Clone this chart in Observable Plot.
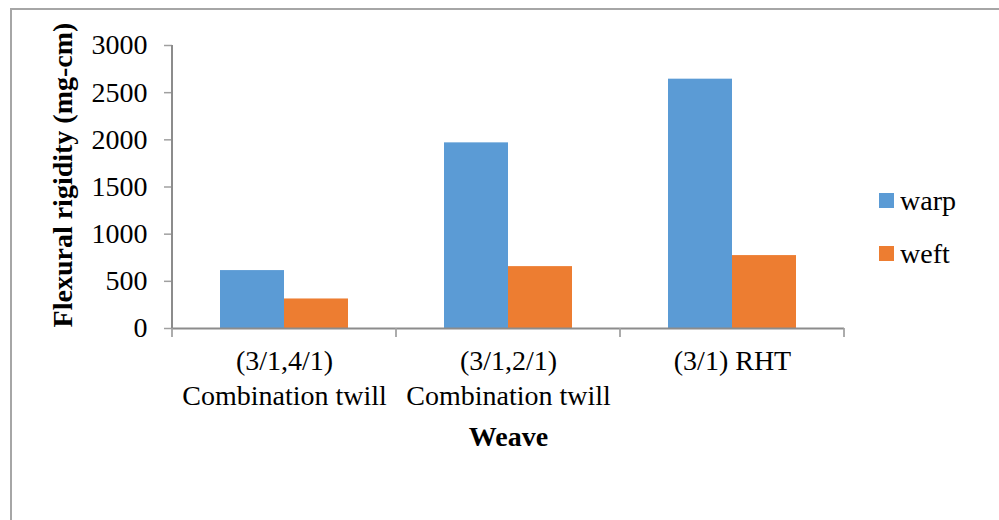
<!DOCTYPE html>
<html>
<head>
<meta charset="utf-8">
<script src="https://cdn.jsdelivr.net/npm/d3@7"></script>
<script src="https://cdn.jsdelivr.net/npm/@observablehq/plot@0.6"></script>
<style>
  html, body { margin: 0; padding: 0; background: #fff; }
  #wrap { position: relative; width: 999px; height: 520px; overflow: hidden; }
  #wrap > svg { position: absolute; left: 0; top: 0; }
  #border { position: absolute; left: 10px; top: 8px; width: 1000px; height: 520px;
            border-top: 2px solid #a6a6a6; border-left: 2px solid #a6a6a6; pointer-events: none; }
  #legend { position: absolute; left: 879px; top: 174px; }
  .lg-swatch { display: flex !important; align-items: center; height: 53px; margin: 0 !important; padding: 0 !important; }
  .lg-swatch > svg { margin-right: 6px !important; }
</style>
</head>
<body>
<div id="wrap"><div id="border"></div></div>
<script>
// Flexural rigidity by weave, warp and weft directions
const categories = ["(3/1,4/1)\nCombination twill", "(3/1,2/1)\nCombination twill", "(3/1) RHT"];
const series = ["warp", "weft"];
const warp = [614, 1968, 2643];
const weft = [313, 656, 773];
const yTicks = [0, 500, 1000, 1500, 2000, 2500, 3000];
const colors = ["#5B9BD5", "#ED7D31"];
const yTitle = "Flexural rigidity (mg-cm)";
const xTitle = "Weave";

const rows = categories.flatMap((c, i) => [
  {category: c, series: series[0], value: warp[i]},
  {category: c, series: series[1], value: weft[i]}
]);

const serif = '"Liberation Serif", "Times New Roman", serif';
const axisGrey = "#8c8c8c";

const chart = Plot.plot({
  width: 999,
  height: 520,
  marginLeft: 172,
  marginRight: 155,
  marginTop: 45,
  marginBottom: 192,
  style: {fontFamily: serif, fontSize: "28px", color: "#000", background: "transparent", overflow: "visible"},
  fx: {domain: categories, padding: 0},
  x: {domain: series, paddingInner: 0, paddingOuter: 0.75, axis: null},
  y: {domain: [yTicks[0], yTicks[yTicks.length - 1]]},
  color: {domain: series, range: colors},
  marks: [
    Plot.barY(rows, {fx: "category", x: "series", y: "value", fill: "series"}),
    Plot.ruleY([0], {stroke: axisGrey, strokeWidth: 2}),
    Plot.axisY({ticks: yTicks, tickFormat: d => String(d), tickSize: 8, tickPadding: 17,
                stroke: "#a0a0a0", strokeWidth: 1.5, fill: "#000", fontSize: 28, label: null}),
    Plot.axisFx({anchor: "bottom", tickSize: 0, tickPadding: 17, fontSize: 28, lineHeight: 1.25,
                 fill: "#000", label: null}),
    Plot.text([{fx: categories[0], t: yTitle}], {fx: "fx", text: "t", frameAnchor: "left",
               textAnchor: "middle", lineAnchor: "middle",
               rotate: -90, dx: -109, dy: -12, fontWeight: "bold", fontSize: 28, fill: "#000"}),
    Plot.text([{fx: categories[1], t: xTitle}], {fx: "fx", text: "t", frameAnchor: "bottom",
               textAnchor: "middle", lineAnchor: "middle",
               dy: 109, fontWeight: "bold", fontSize: 28, fill: "#000"})
  ]
});

// Value axis line and category boundary ticks, placed with the chart's own scales
const fx = chart.scale("fx");
const y = chart.scale("y");
const y0 = y.apply(0);
const yTop = y.apply(yTicks[yTicks.length - 1]);
const edges = categories.map(c => fx.apply(c));
edges.push(fx.apply(categories[categories.length - 1]) + fx.bandwidth);
const g = d3.select(chart).append("g").attr("stroke", axisGrey).attr("stroke-width", 2);
g.append("line").attr("x1", edges[0]).attr("x2", edges[0]).attr("y1", yTop).attr("y2", y0);
g.selectAll(".edge").data(edges).join("line").attr("class", "edge")
  .attr("stroke", "#a0a0a0").attr("stroke-width", 1.75)
  .attr("x1", d => d).attr("x2", d => d).attr("y1", y0).attr("y2", y0 + 9);

const wrap = document.getElementById("wrap");
wrap.insertBefore(chart, wrap.firstChild);

const legend = chart.legend("color", {
  className: "lg", columns: 1, swatchSize: 15,
  style: {fontFamily: serif, fontSize: "28px", color: "#000"}
});
legend.id = "legend";
wrap.appendChild(legend);
</script>
</body>
</html>
